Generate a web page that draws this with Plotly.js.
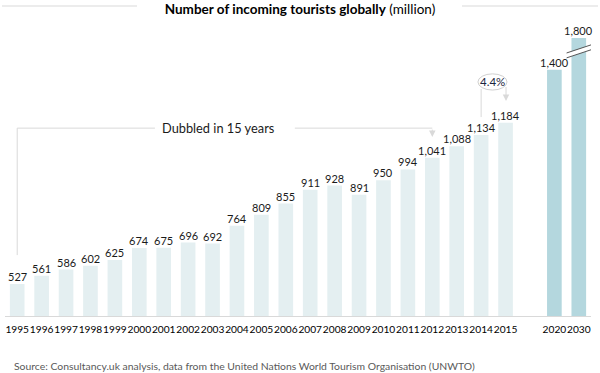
<!DOCTYPE html>
<html>
<head>
<meta charset="utf-8">
<script src="https://cdn.plot.ly/plotly-3.0.1.min.js"></script>
<style>html,body{margin:0;padding:0;background:#fff;}#chart{width:600px;height:373px;}</style>
</head>
<body>
<div id="chart"></div>
<script>
// ---- data ----
const years = ['1995','1996','1997','1998','1999','2000','2001','2002','2003','2004','2005','2006','2007','2008','2009','2010','2011','2012','2013','2014','2015','2020','2030'];
const tourists = [527,561,586,602,625,674,675,696,692,764,809,855,911,928,891,950,994,1041,1088,1134,1184,1400,1800];
const lastActualYear = 2015;
const titleText = '<b>Number of incoming tourists globally</b> (million)';
const bracketText = 'Dubbled in 15 years';
const growthText = '4.4%';
const sourceText = 'Source: Consultancy.uk analysis, data from the United Nations World Tourism Organisation (UNWTO)';

// ---- layout helpers ----
const L = 5, W = 586, T = 38, H = 278;
const B = T + H;
const yMin = 397, yMax = 1529;
const px2x = p => (p - L) / W;
const py2y = p => (B - p) / H;
const FONT = 'Lato, "Open Sans", sans-serif';
const lineCol = '#d9d9d9';

const isForecast = years.map(y => +y > lastActualYear);
const xpos = years.map((y, i) => i + (isForecast[i] ? 1 : 0));
const colors = isForecast.map(f => f ? '#b4d7de' : '#e4eff1');
const fmt = v => v.toLocaleString('en-US');

const trace = {
  type: 'bar', x: xpos, y: tourists, width: 0.6,
  marker: {color: colors, line: {width: 0}},
  hoverinfo: 'skip'
};

const annotations = [];
tourists.forEach((v, i) => {
  annotations.push({
    x: xpos[i], y: Math.min(v, yMax), xref: 'x', yref: 'y',
    text: fmt(v), showarrow: false, yanchor: 'bottom', yshift: -1,
    font: {family: FONT, size: 11, color: '#1a1a1a'}
  });
});

// bracket "Dubbled in 15 years"
const iStart = years.indexOf('1995'), iEnd = years.indexOf('2012');
const brY = 1162;
const xs = xpos[iStart], xe = xpos[iEnd];
annotations.push({
  x: 8.26, y: brY, xref: 'x', yref: 'y', text: bracketText, showarrow: false,
  font: {family: FONT, size: 12.8, color: '#1a1a1a'}
});
annotations.push({
  x: xe, y: tourists[iEnd] + 85, ax: xe, ay: brY, axref: 'x', ayref: 'y', xref: 'x', yref: 'y',
  text: '', showarrow: true, arrowhead: 2, arrowsize: 1.3, arrowwidth: 1, arrowcolor: lineCol
});

// growth 2014 -> 2015
const i14 = years.indexOf('2014'), i15 = years.indexOf('2015');
annotations.push({
  x: 19.45, y: 1350, xref: 'x', yref: 'y', text: growthText, showarrow: false,
  font: {family: FONT, size: 11.5, color: '#1a2540'}
});
annotations.push({
  x: xpos[i15] + 0.02, y: tourists[i15] + 88, ax: xpos[i15] + 0.02, ay: 1336, axref: 'x', ayref: 'y', xref: 'x', yref: 'y',
  text: '', showarrow: true, arrowhead: 2, arrowsize: 1.3, arrowwidth: 1, arrowcolor: lineCol
});

// source
annotations.push({
  x: px2x(12), y: py2y(366), xref: 'paper', yref: 'paper', xanchor: 'left', yanchor: 'middle',
  text: sourceText, showarrow: false, font: {family: FONT, size: 10.4, color: '#595959'}
});

const shapes = [
  // title side lines
  {type: 'line', xref: 'paper', yref: 'paper', x0: px2x(2), x1: px2x(137), y0: py2y(6), y1: py2y(6), line: {color: lineCol, width: 1}},
  {type: 'line', xref: 'paper', yref: 'paper', x0: px2x(462), x1: px2x(598), y0: py2y(6), y1: py2y(6), line: {color: lineCol, width: 1}},
  // bracket lines
  {type: 'line', xref: 'x', yref: 'y', x0: xs, x1: xs, y0: tourists[iStart] + 118, y1: brY, line: {color: lineCol, width: 1}},
  {type: 'line', xref: 'x', yref: 'y', x0: xs, x1: 5.64, y0: brY, y1: brY, line: {color: lineCol, width: 1}},
  {type: 'line', xref: 'x', yref: 'y', x0: 11.37, x1: xe, y0: brY, y1: brY, line: {color: lineCol, width: 1}},
  // growth lines
  {type: 'line', xref: 'x', yref: 'y', x0: xpos[i14], x1: xpos[i14], y0: tourists[i14] + 73, y1: 1321, line: {color: lineCol, width: 1}},
  {type: 'circle', xref: 'x', yref: 'y', x0: 18.87, x1: 20.06, y0: 1317, y1: 1383, line: {color: '#d0d0d0', width: 1}, fillcolor: 'rgba(0,0,0,0)'},
  // axis break on 2030 bar
  {type: 'path', xref: 'x', yref: 'y', path: 'M22.5,1448 L23.5,1481 L23.5,1501 L22.5,1468 Z', fillcolor: '#ffffff', line: {width: 0}},
  {type: 'line', xref: 'x', yref: 'y', x0: 22.5, x1: 23.5, y0: 1448, y1: 1481, line: {color: '#555', width: 1}},
  {type: 'line', xref: 'x', yref: 'y', x0: 22.5, x1: 23.5, y0: 1468, y1: 1501, line: {color: '#555', width: 1}}
];

const layout = {
  width: 600, height: 373,
  margin: {l: L, r: 600 - L - W, t: T, b: 373 - B},
  paper_bgcolor: '#fff', plot_bgcolor: '#fff',
  showlegend: false,
  title: {text: titleText, x: 0.5, xref: 'container', xanchor: 'center', y: 1 - 9.5 / 373, yref: 'container', yanchor: 'middle',
          font: {family: FONT, size: 13.5, color: '#000'}},
  xaxis: {range: [-0.5, 23.5], tickvals: xpos, ticktext: years, tickangle: 0, showgrid: false, zeroline: false,
          showline: true, linecolor: lineCol, linewidth: 1, ticks: '', ticklen: 0, ticklabelstandoff: 4,
          tickfont: {family: FONT, size: 10.2, color: '#000'}, fixedrange: true},
  yaxis: {range: [yMin, yMax], visible: false, showgrid: false, zeroline: false, fixedrange: true},
  annotations: annotations,
  shapes: shapes
};

Plotly.newPlot('chart', [trace], layout, {displayModeBar: false, staticPlot: true});
</script>
</body>
</html>
